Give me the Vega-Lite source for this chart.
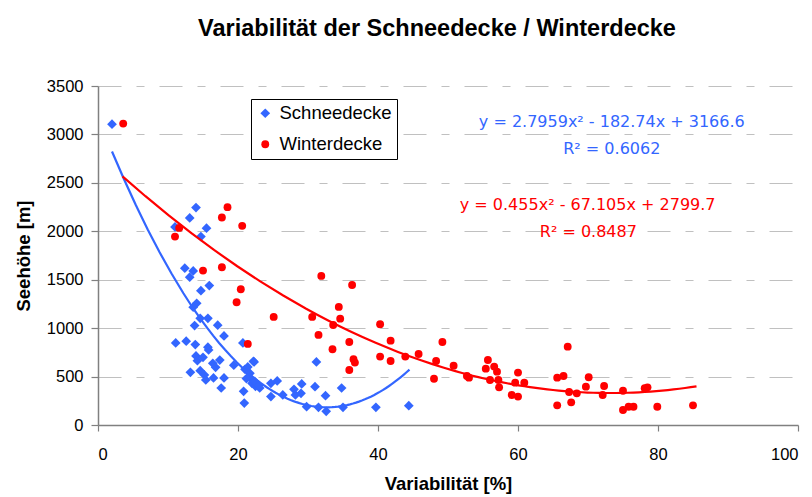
{
  "$schema": "https://vega.github.io/schema/vega-lite/v6.json",
  "width": 700,
  "height": 339,
  "autosize": {"type": "none"},
  "padding": {"left": 98, "top": 86, "right": 14, "bottom": 72},
  "background": "white",
  "title": {
    "text": "Variabilität der Schneedecke / Winterdecke",
    "font": "Liberation Sans",
    "fontSize": 23.5,
    "fontWeight": "bold",
    "color": "black",
    "anchor": "middle",
    "baseline": "alphabetic",
    "dx": -11,
    "offset": 19
  },
  "datasets": {
    "pts": [
      {"x": 2.0, "y": 3106, "serie": "Schneedecke"},
      {"x": 14.0, "y": 2245, "serie": "Schneedecke"},
      {"x": 13.1, "y": 2138, "serie": "Schneedecke"},
      {"x": 11.0, "y": 2045, "serie": "Schneedecke"},
      {"x": 14.7, "y": 1945, "serie": "Schneedecke"},
      {"x": 15.5, "y": 2032, "serie": "Schneedecke"},
      {"x": 12.4, "y": 1619, "serie": "Schneedecke"},
      {"x": 13.6, "y": 1591, "serie": "Schneedecke"},
      {"x": 13.1, "y": 1526, "serie": "Schneedecke"},
      {"x": 14.7, "y": 1387, "serie": "Schneedecke"},
      {"x": 15.9, "y": 1439, "serie": "Schneedecke"},
      {"x": 14.1, "y": 1257, "serie": "Schneedecke"},
      {"x": 13.6, "y": 1216, "serie": "Schneedecke"},
      {"x": 14.6, "y": 1102, "serie": "Schneedecke"},
      {"x": 13.8, "y": 1026, "serie": "Schneedecke"},
      {"x": 15.7, "y": 1102, "serie": "Schneedecke"},
      {"x": 17.1, "y": 1030, "serie": "Schneedecke"},
      {"x": 18.0, "y": 919, "serie": "Schneedecke"},
      {"x": 11.1, "y": 847, "serie": "Schneedecke"},
      {"x": 12.6, "y": 865, "serie": "Schneedecke"},
      {"x": 13.9, "y": 830, "serie": "Schneedecke"},
      {"x": 15.7, "y": 803, "serie": "Schneedecke"},
      {"x": 15.8, "y": 775, "serie": "Schneedecke"},
      {"x": 20.7, "y": 847, "serie": "Schneedecke"},
      {"x": 14.0, "y": 713, "serie": "Schneedecke"},
      {"x": 15.0, "y": 699, "serie": "Schneedecke"},
      {"x": 14.2, "y": 664, "serie": "Schneedecke"},
      {"x": 16.4, "y": 637, "serie": "Schneedecke"},
      {"x": 17.4, "y": 671, "serie": "Schneedecke"},
      {"x": 16.8, "y": 596, "serie": "Schneedecke"},
      {"x": 13.2, "y": 544, "serie": "Schneedecke"},
      {"x": 14.6, "y": 561, "serie": "Schneedecke"},
      {"x": 15.2, "y": 517, "serie": "Schneedecke"},
      {"x": 15.4, "y": 465, "serie": "Schneedecke"},
      {"x": 16.5, "y": 486, "serie": "Schneedecke"},
      {"x": 18.0, "y": 486, "serie": "Schneedecke"},
      {"x": 17.6, "y": 382, "serie": "Schneedecke"},
      {"x": 19.4, "y": 617, "serie": "Schneedecke"},
      {"x": 22.2, "y": 658, "serie": "Schneedecke"},
      {"x": 21.0, "y": 575, "serie": "Schneedecke"},
      {"x": 21.7, "y": 534, "serie": "Schneedecke"},
      {"x": 21.9, "y": 472, "serie": "Schneedecke"},
      {"x": 22.7, "y": 424, "serie": "Schneedecke"},
      {"x": 20.8, "y": 348, "serie": "Schneedecke"},
      {"x": 20.9, "y": 227, "serie": "Schneedecke"},
      {"x": 22.3, "y": 651, "serie": "Schneedecke"},
      {"x": 31.2, "y": 651, "serie": "Schneedecke"},
      {"x": 22.0, "y": 430, "serie": "Schneedecke"},
      {"x": 22.5, "y": 400, "serie": "Schneedecke"},
      {"x": 23.1, "y": 382, "serie": "Schneedecke"},
      {"x": 24.7, "y": 293, "serie": "Schneedecke"},
      {"x": 24.7, "y": 431, "serie": "Schneedecke"},
      {"x": 25.6, "y": 455, "serie": "Schneedecke"},
      {"x": 26.4, "y": 310, "serie": "Schneedecke"},
      {"x": 28.0, "y": 369, "serie": "Schneedecke"},
      {"x": 28.2, "y": 310, "serie": "Schneedecke"},
      {"x": 29.0, "y": 327, "serie": "Schneedecke"},
      {"x": 29.1, "y": 424, "serie": "Schneedecke"},
      {"x": 31.0, "y": 396, "serie": "Schneedecke"},
      {"x": 32.5, "y": 303, "serie": "Schneedecke"},
      {"x": 34.8, "y": 382, "serie": "Schneedecke"},
      {"x": 29.8, "y": 189, "serie": "Schneedecke"},
      {"x": 31.5, "y": 183, "serie": "Schneedecke"},
      {"x": 32.6, "y": 141, "serie": "Schneedecke"},
      {"x": 35.0, "y": 183, "serie": "Schneedecke"},
      {"x": 39.7, "y": 183, "serie": "Schneedecke"},
      {"x": 44.4, "y": 200, "serie": "Schneedecke"},
      {"x": 21.4, "y": 600, "serie": "Schneedecke"},
      {"x": 21.2, "y": 480, "serie": "Schneedecke"},
      {"x": 22.4, "y": 450, "serie": "Schneedecke"},
      {"x": 23.0, "y": 410, "serie": "Schneedecke"},
      {"x": 3.6, "y": 3112, "serie": "Winterdecke"},
      {"x": 11.6, "y": 2035, "serie": "Winterdecke"},
      {"x": 11.0, "y": 1945, "serie": "Winterdecke"},
      {"x": 17.7, "y": 2142, "serie": "Winterdecke"},
      {"x": 18.5, "y": 2249, "serie": "Winterdecke"},
      {"x": 20.6, "y": 2056, "serie": "Winterdecke"},
      {"x": 15.0, "y": 1594, "serie": "Winterdecke"},
      {"x": 17.7, "y": 1629, "serie": "Winterdecke"},
      {"x": 20.4, "y": 1402, "serie": "Winterdecke"},
      {"x": 19.8, "y": 1267, "serie": "Winterdecke"},
      {"x": 21.4, "y": 837, "serie": "Winterdecke"},
      {"x": 31.9, "y": 1539, "serie": "Winterdecke"},
      {"x": 36.3, "y": 1446, "serie": "Winterdecke"},
      {"x": 25.1, "y": 1116, "serie": "Winterdecke"},
      {"x": 30.6, "y": 1116, "serie": "Winterdecke"},
      {"x": 34.4, "y": 1219, "serie": "Winterdecke"},
      {"x": 34.6, "y": 1098, "serie": "Winterdecke"},
      {"x": 33.6, "y": 1033, "serie": "Winterdecke"},
      {"x": 31.5, "y": 930, "serie": "Winterdecke"},
      {"x": 33.5, "y": 782, "serie": "Winterdecke"},
      {"x": 35.9, "y": 857, "serie": "Winterdecke"},
      {"x": 36.5, "y": 679, "serie": "Winterdecke"},
      {"x": 36.7, "y": 644, "serie": "Winterdecke"},
      {"x": 35.9, "y": 568, "serie": "Winterdecke"},
      {"x": 40.3, "y": 1040, "serie": "Winterdecke"},
      {"x": 41.8, "y": 871, "serie": "Winterdecke"},
      {"x": 40.3, "y": 706, "serie": "Winterdecke"},
      {"x": 41.8, "y": 661, "serie": "Winterdecke"},
      {"x": 43.9, "y": 706, "serie": "Winterdecke"},
      {"x": 45.8, "y": 733, "serie": "Winterdecke"},
      {"x": 48.3, "y": 661, "serie": "Winterdecke"},
      {"x": 49.2, "y": 857, "serie": "Winterdecke"},
      {"x": 48.0, "y": 478, "serie": "Winterdecke"},
      {"x": 50.8, "y": 613, "serie": "Winterdecke"},
      {"x": 52.7, "y": 506, "serie": "Winterdecke"},
      {"x": 53.0, "y": 489, "serie": "Winterdecke"},
      {"x": 55.7, "y": 671, "serie": "Winterdecke"},
      {"x": 55.4, "y": 582, "serie": "Winterdecke"},
      {"x": 56.6, "y": 603, "serie": "Winterdecke"},
      {"x": 57.0, "y": 551, "serie": "Winterdecke"},
      {"x": 56.0, "y": 465, "serie": "Winterdecke"},
      {"x": 57.2, "y": 465, "serie": "Winterdecke"},
      {"x": 57.3, "y": 389, "serie": "Winterdecke"},
      {"x": 60.0, "y": 541, "serie": "Winterdecke"},
      {"x": 59.6, "y": 437, "serie": "Winterdecke"},
      {"x": 60.9, "y": 437, "serie": "Winterdecke"},
      {"x": 59.1, "y": 310, "serie": "Winterdecke"},
      {"x": 60.0, "y": 293, "serie": "Winterdecke"},
      {"x": 67.1, "y": 809, "serie": "Winterdecke"},
      {"x": 65.6, "y": 489, "serie": "Winterdecke"},
      {"x": 66.5, "y": 506, "serie": "Winterdecke"},
      {"x": 70.1, "y": 493, "serie": "Winterdecke"},
      {"x": 69.7, "y": 396, "serie": "Winterdecke"},
      {"x": 67.3, "y": 341, "serie": "Winterdecke"},
      {"x": 68.4, "y": 327, "serie": "Winterdecke"},
      {"x": 65.6, "y": 203, "serie": "Winterdecke"},
      {"x": 67.6, "y": 234, "serie": "Winterdecke"},
      {"x": 72.3, "y": 403, "serie": "Winterdecke"},
      {"x": 72.1, "y": 310, "serie": "Winterdecke"},
      {"x": 75.0, "y": 354, "serie": "Winterdecke"},
      {"x": 75.0, "y": 155, "serie": "Winterdecke"},
      {"x": 75.8, "y": 189, "serie": "Winterdecke"},
      {"x": 76.5, "y": 189, "serie": "Winterdecke"},
      {"x": 78.1, "y": 379, "serie": "Winterdecke"},
      {"x": 78.5, "y": 389, "serie": "Winterdecke"},
      {"x": 79.9, "y": 189, "serie": "Winterdecke"},
      {"x": 85.0, "y": 203, "serie": "Winterdecke"}
    ],
    "eq": [
      {"x": 73.4, "y": 3081, "label": "y = 2.7959x² - 182.74x + 3166.6", "serie": "Schneedecke"},
      {"x": 73.4, "y": 2796, "label": "R² = 0.6062", "serie": "Schneedecke"},
      {"x": 69.95, "y": 2221, "label": "y = 0.455x² - 67.105x + 2799.7", "serie": "Winterdecke"},
      {"x": 70.05, "y": 1945, "label": "R² = 0.8487", "serie": "Winterdecke"}
    ]
  },
  "layer": [
    {
      "data": {"name": "pts"},
      "mark": {"type": "point", "filled": true, "opacity": 1},
      "encoding": {
        "x": {
          "field": "x", "type": "quantitative",
          "scale": {"domain": [0, 100], "nice": false},
          "axis": {"title": "Variabilität [%]", "values": [0, 20, 40, 60, 80, 100], "grid": false, "tickSize": 6, "labelPadding": 15, "titlePadding": 12}
        },
        "y": {
          "field": "y", "type": "quantitative",
          "scale": {"domain": [0, 3500], "nice": false},
          "axis": {"title": "Seehöhe [m]", "format": "d", "values": [0, 500, 1000, 1500, 2000, 2500, 3000, 3500], "grid": true, "gridColor": "#c0c0c0", "gridDash": [23, 15, 8, 15], "gridWidth": 1.2, "tickSize": 7, "labelPadding": 8, "titlePadding": 13}
        },
        "color": {
          "field": "serie", "type": "nominal",
          "scale": {"domain": ["Schneedecke", "Winterdecke"], "range": ["#3366ff", "#ff0000"]},
          "legend": {"title": null}
        },
        "shape": {
          "field": "serie", "type": "nominal",
          "scale": {"domain": ["Schneedecke", "Winterdecke"], "range": ["diamond", "circle"]},
          "legend": {"title": null}
        },
        "size": {
          "field": "serie", "type": "nominal",
          "scale": {"domain": ["Schneedecke", "Winterdecke"], "range": [95, 62]},
          "legend": null
        }
      }
    },
    {
      "data": {"name": "pts"},
      "transform": [
        {"filter": "datum.serie === 'Schneedecke'"},
        {"regression": "y", "on": "x", "method": "poly", "order": 2, "extent": [2, 44.5]}
      ],
      "mark": {"type": "line", "color": "#3366ff", "strokeWidth": 2.2},
      "encoding": {
        "x": {"field": "x", "type": "quantitative"},
        "y": {"field": "y", "type": "quantitative"}
      }
    },
    {
      "data": {"name": "pts"},
      "transform": [
        {"filter": "datum.serie === 'Winterdecke'"},
        {"regression": "y", "on": "x", "method": "poly", "order": 2, "extent": [3.5, 85.5]}
      ],
      "mark": {"type": "line", "color": "#ff0000", "strokeWidth": 2.2},
      "encoding": {
        "x": {"field": "x", "type": "quantitative"},
        "y": {"field": "y", "type": "quantitative"}
      }
    },
    {
      "data": {"name": "eq"},
      "transform": [{"filter": "datum.serie === 'Schneedecke'"}],
      "mark": {"type": "text", "color": "#3366ff", "font": "DejaVu Sans", "fontSize": 16, "align": "center", "baseline": "alphabetic"},
      "encoding": {
        "x": {"field": "x", "type": "quantitative"},
        "y": {"field": "y", "type": "quantitative"},
        "text": {"field": "label"}
      }
    },
    {
      "data": {"name": "eq"},
      "transform": [{"filter": "datum.serie === 'Winterdecke'"}],
      "mark": {"type": "text", "color": "#ff0000", "font": "DejaVu Sans", "fontSize": 16, "align": "center", "baseline": "alphabetic"},
      "encoding": {
        "x": {"field": "x", "type": "quantitative"},
        "y": {"field": "y", "type": "quantitative"},
        "text": {"field": "label"}
      }
    }
  ],
  "config": {
    "view": {"stroke": null},
    "axis": {
      "labelFont": "Liberation Sans",
      "labelFontSize": 16.5,
      "labelColor": "black",
      "titleFont": "Liberation Sans",
      "titleFontSize": 18.5,
      "titleFontWeight": "bold",
      "titleColor": "black",
      "domainColor": "#808080",
      "domainWidth": 1.5,
      "tickColor": "#808080",
      "tickWidth": 1.2
    },
    "legend": {
      "orient": "none",
      "legendX": 153,
      "legendY": 13,
      "strokeColor": "black",
      "fillColor": "white",
      "padding": 5,
      "labelFont": "Liberation Sans",
      "labelFontSize": 18.5,
      "labelColor": "black",
      "labelOffset": 5,
      "labelLimit": 0,
      "rowPadding": 12,
      "symbolSize": 60,
      "symbolStrokeWidth": 0
    }
  }
}
